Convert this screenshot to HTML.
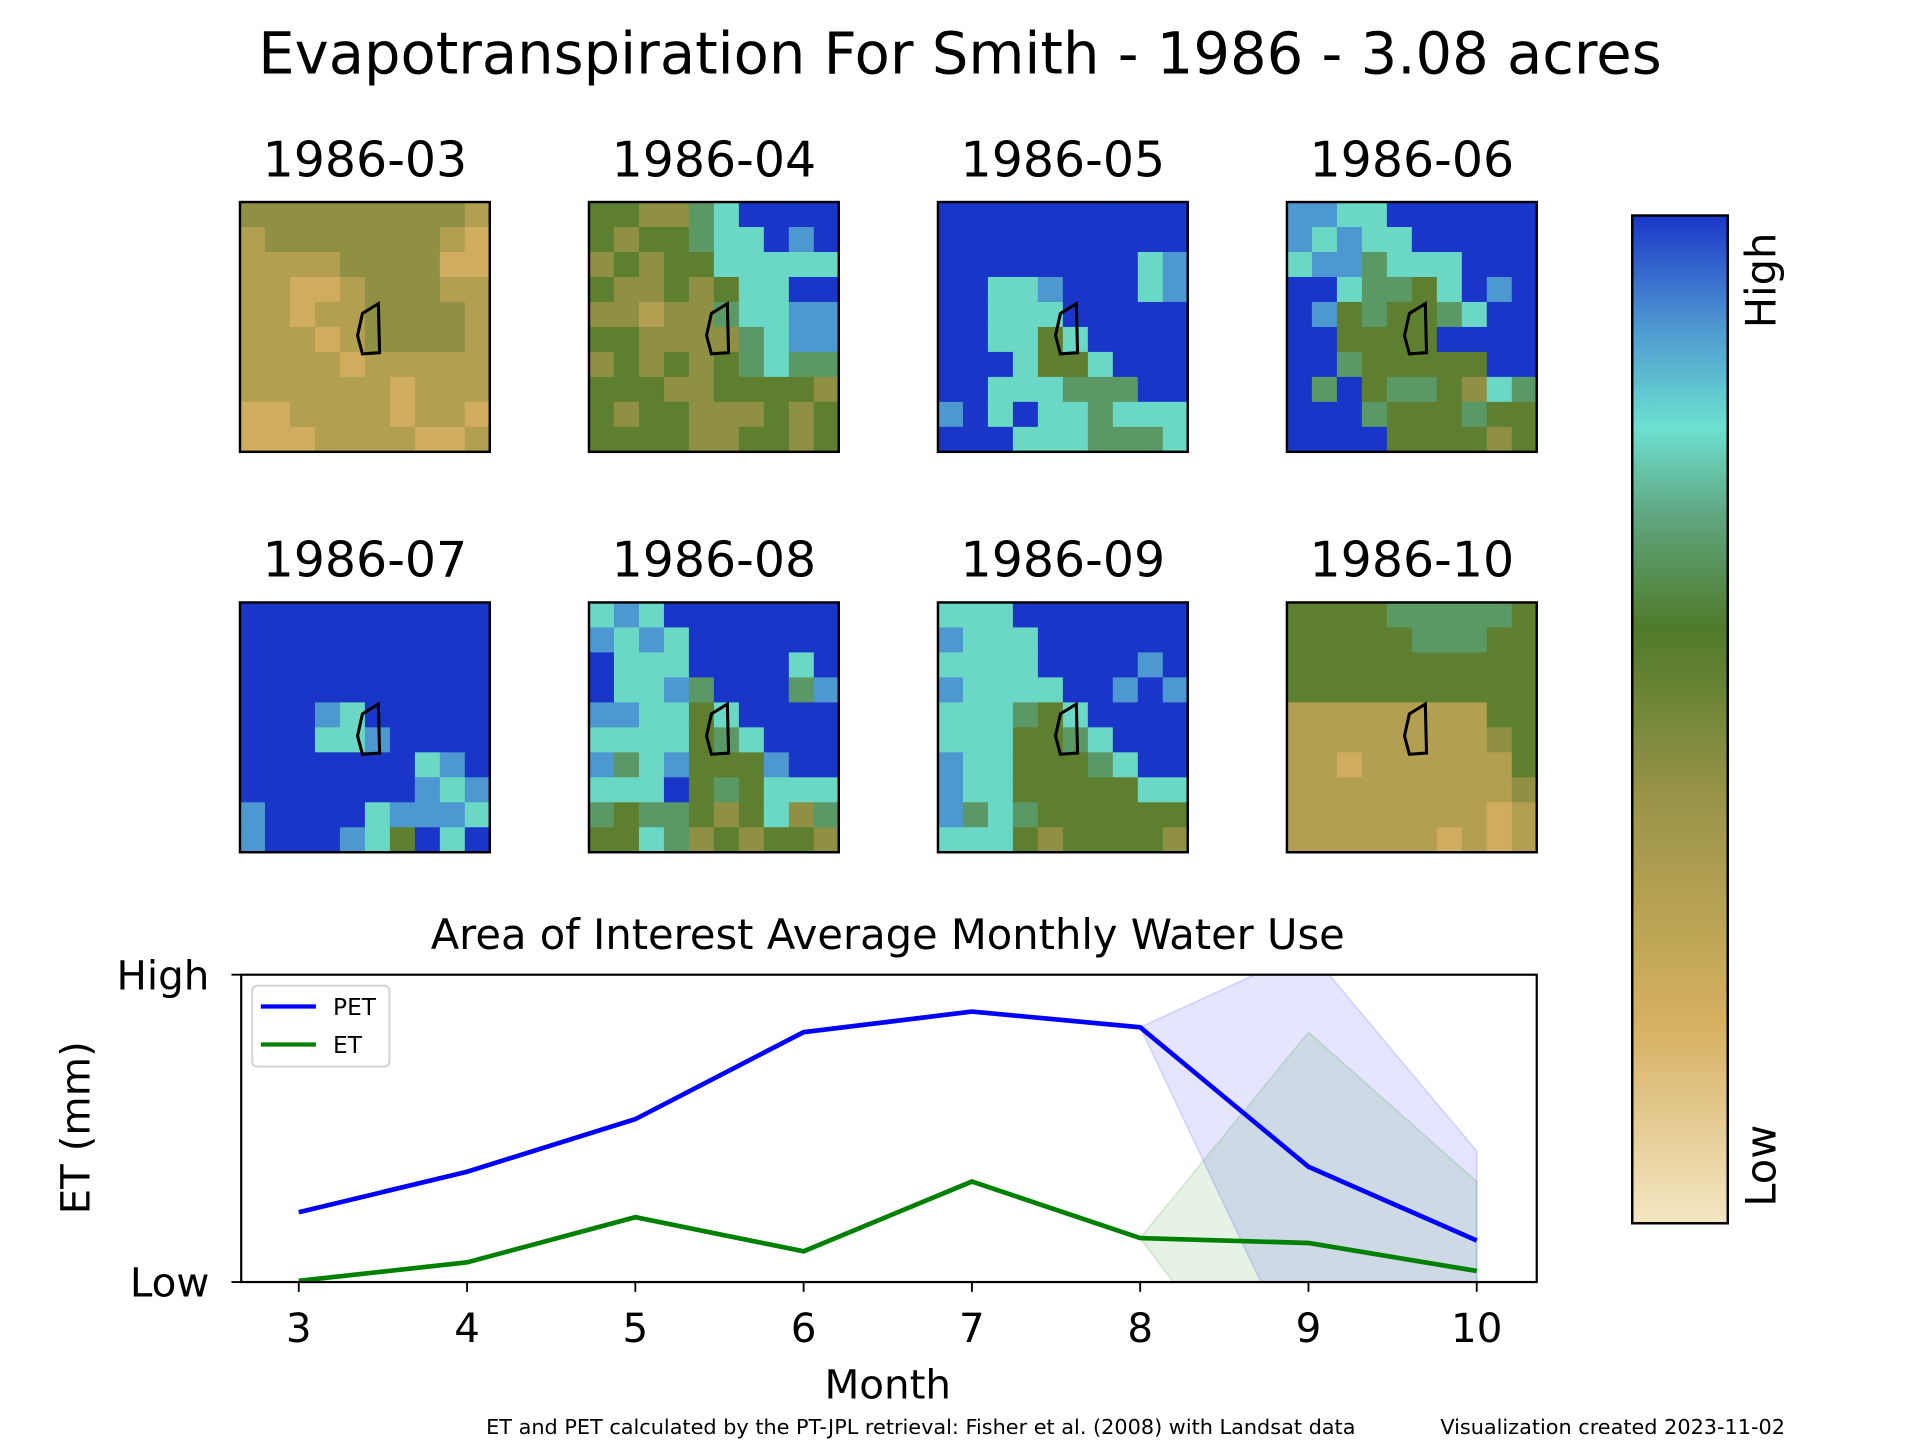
<!DOCTYPE html>
<html><head><meta charset="utf-8"><style>
html,body{margin:0;padding:0;background:#fff;}
svg{display:block;font-family:"DejaVu Sans","Liberation Sans",sans-serif;}
</style></head><body>
<svg id="fig" width="1920" height="1440" viewBox="0 0 1568 1176" xmlns="http://www.w3.org/2000/svg">
<defs>
<linearGradient id="cmap" x1="0" y1="1" x2="0" y2="0">
<stop offset="0" stop-color="#f4e6c4"/><stop offset="0.2" stop-color="#d6b060"/><stop offset="0.42" stop-color="#9a9448"/><stop offset="0.59" stop-color="#4f7a2a"/><stop offset="0.7" stop-color="#5fa57e"/><stop offset="0.79" stop-color="#6ce0d0"/><stop offset="0.9" stop-color="#4a90d0"/><stop offset="1" stop-color="#1a36c8"/>
</linearGradient>
<clipPath id="axclip"><rect x="197" y="796" width="1058" height="251"/></clipPath>
</defs>
<text x="784" y="60" font-size="47" text-anchor="middle">Evapotranspiration For Smith - 1986 - 3.08 acres</text>
<g id="panels"></g>
<rect x="1333" y="176" width="78" height="823" fill="url(#cmap)" stroke="#000" stroke-width="2"/>
<text transform="translate(1450,229) rotate(-90)" font-size="34" text-anchor="middle">High</text>
<text transform="translate(1450,952) rotate(-90)" font-size="34" text-anchor="middle">Low</text>
<text x="725" y="775" font-size="34" text-anchor="middle">Area of Interest Average Monthly Water Use</text>
<g id="chart"></g>
<text transform="translate(73,921) rotate(-90)" font-size="33" text-anchor="middle">ET (mm)</text>
<text x="725" y="1142" font-size="33" text-anchor="middle">Month</text>
<text x="752" y="1171" font-size="17" text-anchor="middle">ET and PET calculated by the PT-JPL retrieval: Fisher et al. (2008) with Landsat data</text>
<text x="1317" y="1171" font-size="17" text-anchor="middle">Visualization created 2023-11-02</text>
</svg>
<script>
const NS="http://www.w3.org/2000/svg";
const panelLabels=["1986-03","1986-04","1986-05","1986-06","1986-07","1986-08","1986-09","1986-10"];
const grid03=["4444444443","3444444432","3333444422","3322344433","3323344443","3332344443","3333233333","3333332333","2233332332","2223333223"];
const grid04=["5544679999","5455677989","4545577777","5445457799","4434467788","5544446788","4545456766","5554455554","5455444545","5555445545"];
const grid05=["9999999999","9999999999","9999999978","9977899978","9977799999","9977579999","9997557999","9977766699","8979776777","9997776667"];
const grid06=["8877999999","8787799999","7886777999","9976657989","9856556799","9955559999","9965555599","9695665476","9996555655","9999555545"];
const grid07=["9999999999","9999999999","9999999999","9999999999","9998799999","9997789999","9999999789","9999999878","8999978887","8999875979"];
const grid08=["7879999999","8787999999","9777999979","9778699968","8877579999","7777567999","8678555899","7779565777","6566545746","5576454554"];
const grid09=["7779999999","8777999999","7777999989","8777799898","7776579999","7775567999","8775556799","8775555577","8676555555","7775455554"];
const grid10=["5555666665","5555566655","5555555555","5555555555","3333333355","3333333345","3323333335","3333333334","3333333323","3333332323"];
const grids=[grid03,grid04,grid05,grid06,grid07,grid08,grid09,grid10];
const months=[3,4,5,6,7,8,9,10];
const petValues=[0.227,0.359,0.53,0.813,0.88,0.829,0.375,0.135];
const etValues=[0.004,0.064,0.211,0.1,0.327,0.143,0.127,0.036];
const bandMonths=[8,9,10];
const petUpper=[0.829,1.08,0.426];
const petLower=[0.829,-0.327,-0.2];
const etUpper=[0.143,0.813,0.327];
const etLower=[0.143,-0.587,-0.3];
const xTickLabels=["3","4","5","6","7","8","9","10"];
const yTickLabels=["Low","High"];

const stops=[[0,[244,230,196]],[0.2,[214,176,96]],[0.42,[154,148,72]],[0.59,[79,122,42]],[0.7,[95,165,126]],[0.79,[108,224,208]],[0.9,[74,144,208]],[1,[26,54,200]]];
function cmap(f){for(let i=1;i<stops.length;i++){if(f<=stops[i][0]){const a=stops[i-1],b=stops[i],t=(f-a[0])/(b[0]-a[0]);return "rgb("+a[1].map((c,k)=>Math.round(c+(b[1][k]-c)*t)).join(",")+")";}}return "rgb(26,54,200)";}
function mk(tag,attrs,parent){const e=document.createElementNS(NS,tag);for(const k in attrs)e.setAttribute(k,attrs[k]);parent.appendChild(e);return e;}

const panelsG=document.getElementById('panels');
const colX=[196,481,766,1051],rowY=[165,492],PS=204;
grids.forEach((g,pi)=>{
  const px=colX[pi%4],py=rowY[Math.floor(pi/4)];
  const pg=mk('g',{},panelsG);
  
  
  const t=mk('text',{x:px+PS/2,y:py-21,'font-size':40,'text-anchor':'middle'},pg);
  
  
  t.textContent=panelLabels[pi];
  const n=g.length,cs=PS/n;
  g.forEach((row,r)=>{for(let c=0;c<row.length;c++){
    const v=+row[c]/9;
    const cell=mk('rect',{x:px+c*cs,y:py+r*cs,width:cs+0.5,height:cs+0.5,fill:cmap(v)},pg);
    
    
  }});
  const poly=mk('polygon',{points:[[100,91],[113,83],[114,123],[100,124],[96,109]].map(p=>(px+p[0])+","+(py+p[1])).join(" "),fill:"none",stroke:"#000","stroke-width":2.5},pg);
  
  
  const fr=mk('rect',{x:px,y:py,width:PS,height:PS,fill:'none',stroke:'#000','stroke-width':2},pg);
  
  
});

const ch=document.getElementById('chart');
const X=m=>244+(m-3)*(1206-244)/7;
const Y=v=>1047-v*251;
const clipG=mk('g',{'clip-path':'url(#axclip)'},ch);
function band(up,lo,fill,name){
  const pts=bandMonths.map((m,i)=>X(m)+","+Y(up[i])).concat(bandMonths.map((m,i)=>[m,i]).reverse().map(([m,i])=>X(m)+","+Y(lo[i])));
  const p=mk('polygon',{points:pts.join(" "),fill:fill,'fill-opacity':0.1,stroke:fill,'stroke-opacity':0.12,'stroke-width':1.5},clipG);
  
  
}
band(petUpper,petLower,'#0000ff','pet-range-band');
band(etUpper,etLower,'#008000','et-range-band');
function line(vals,color,name){
  const p=mk('polyline',{points:months.map((m,i)=>X(m)+","+Y(vals[i])).join(" "),fill:'none',stroke:color,'stroke-width':3.8},clipG);
  
  
}
line(petValues,'#0000ff','pet-line');
line(etValues,'#008000','et-line');
const frame=mk('rect',{x:197,y:796,width:1058,height:251,fill:'none',stroke:'#000','stroke-width':1.8},ch);


months.forEach((m,i)=>{
  const tk=mk('line',{x1:X(m),x2:X(m),y1:1047,y2:1055,stroke:'#000','stroke-width':1.5},ch);
  
  
  const tl=mk('text',{x:X(m),y:1096,'font-size':33,'text-anchor':'middle'},ch);
  
  
  tl.textContent=xTickLabels[i];
});
yTickLabels.forEach((lab,i)=>{
  const tk=mk('line',{x1:189,x2:197,y1:Y(i),y2:Y(i),stroke:'#000','stroke-width':1.5},ch);
  
  
  const tl=mk('text',{x:171,y:Y(i)+12,'font-size':33,'text-anchor':'end'},ch);
  
  
  tl.textContent=lab;
});
const lg=mk('g',{},ch);


mk('rect',{x:206,y:805,width:112,height:66,rx:4,fill:'#fff','fill-opacity':0.8,stroke:'#d0d0d0','stroke-width':1.5},lg);
[['PET','#0000ff',822],['ET','#008000',853]].forEach(([n,c,y])=>{
  const l=mk('line',{x1:213,x2:258,y1:y,y2:y,stroke:c,'stroke-width':3.5},lg);
  
  
  const t=mk('text',{x:272,y:y+7,'font-size':19},lg);
  
  
  t.textContent=n;
});
</script>
</body></html>
